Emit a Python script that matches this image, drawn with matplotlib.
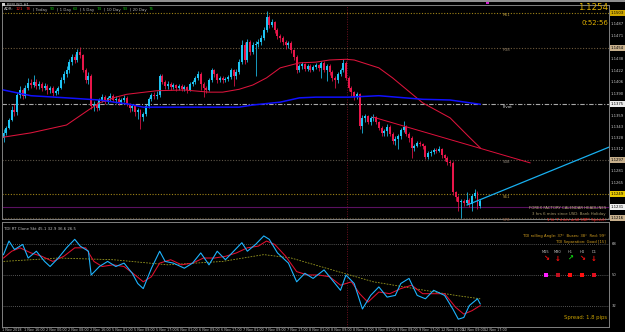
import matplotlib
matplotlib.use("Agg")
import matplotlib.pyplot as plt
import matplotlib.transforms as mtransforms
from matplotlib.patches import Rectangle
import numpy as np

# ---------------- data ----------------
first_open = 1.1328
closes = [1.1335, 1.1342, 1.1353, 1.1367, 1.1364, 1.1388, 1.1395, 1.1387, 1.1398, 1.1405,
          1.1402, 1.1406, 1.1401, 1.1403, 1.1398, 1.1401, 1.1395, 1.1398, 1.1391, 1.1394,
          1.1398, 1.1409, 1.1417, 1.1423, 1.1434, 1.1441, 1.1437, 1.1448, 1.1444, 1.1423,
          1.1409, 1.1415, 1.1373, 1.1375, 1.1370, 1.1381, 1.1385, 1.1378, 1.1384, 1.1387,
          1.1381, 1.1382, 1.1378, 1.1381, 1.1384, 1.1375, 1.1370, 1.1373, 1.1364, 1.1367,
          1.1357, 1.1361, 1.1373, 1.1382, 1.1388, 1.1387, 1.1388, 1.1414, 1.1406, 1.1401,
          1.1403, 1.1399, 1.1402, 1.1398, 1.1401, 1.1396, 1.1399, 1.1395, 1.1403, 1.1406,
          1.1412, 1.1417, 1.1403, 1.1398, 1.1395, 1.1409, 1.1423, 1.1417, 1.1409, 1.1412,
          1.1409, 1.1410, 1.1413, 1.1423, 1.1415, 1.1420, 1.1434, 1.1458, 1.1437, 1.1462,
          1.1448, 1.1458, 1.1459, 1.1462, 1.1468, 1.1479, 1.1497, 1.1486, 1.1490, 1.1479,
          1.1471, 1.1468, 1.1462, 1.1458, 1.1461, 1.1451, 1.1441, 1.1423, 1.1429, 1.1431,
          1.1424, 1.1429, 1.1423, 1.1427, 1.1430, 1.1426, 1.1433, 1.1423, 1.1429, 1.1420,
          1.1412, 1.1409, 1.1417, 1.1423, 1.1433, 1.1412, 1.1398, 1.1392, 1.1385, 1.1389,
          1.1345, 1.1356, 1.1358, 1.1350, 1.1356, 1.1357, 1.1350, 1.1342, 1.1335, 1.1338,
          1.1343, 1.1334, 1.1324, 1.1327, 1.1331, 1.1339, 1.1343, 1.1333, 1.1328, 1.1314,
          1.1317, 1.1321, 1.1319, 1.1317, 1.1301, 1.1307, 1.1308, 1.1311, 1.1310, 1.1312,
          1.1304, 1.1300, 1.1294, 1.1293, 1.1252, 1.1245, 1.1238, 1.1240, 1.1237, 1.1241,
          1.1235, 1.1247, 1.1251, 1.1233, 1.1239]
highs = [1.1340, 1.1345, 1.1356, 1.1372, 1.1375, 1.1392, 1.1400, 1.1398, 1.1402, 1.1412,
         1.1410, 1.1416, 1.1410, 1.1408, 1.1406, 1.1405, 1.1403, 1.1401, 1.1400, 1.1397,
         1.1401, 1.1413, 1.1421, 1.1428, 1.1438, 1.1446, 1.1445, 1.1452, 1.1455, 1.1446,
         1.1426, 1.1420, 1.1418, 1.1380, 1.1378, 1.1384, 1.1390, 1.1388, 1.1387, 1.1391,
         1.1389, 1.1386, 1.1385, 1.1384, 1.1388, 1.1386, 1.1377, 1.1376, 1.1375, 1.1370,
         1.1369, 1.1364, 1.1376, 1.1385, 1.1391, 1.1392, 1.1393, 1.1418, 1.1417, 1.1409,
         1.1407, 1.1406, 1.1405, 1.1404, 1.1404, 1.1403, 1.1402, 1.1401, 1.1406, 1.1409,
         1.1415, 1.1421, 1.1420, 1.1406, 1.1401, 1.1412, 1.1426, 1.1425, 1.1419, 1.1415,
         1.1414, 1.1413, 1.1416, 1.1426, 1.1425, 1.1424, 1.1438, 1.1465, 1.1462, 1.1466,
         1.1465, 1.1462, 1.1463, 1.1466, 1.1472, 1.1483, 1.1505, 1.1500, 1.1494, 1.1492,
         1.1482, 1.1474, 1.1470, 1.1465, 1.1464, 1.1463, 1.1453, 1.1444, 1.1432, 1.1434,
         1.1433, 1.1432, 1.1431, 1.1430, 1.1433, 1.1432, 1.1436, 1.1435, 1.1432, 1.1431,
         1.1423, 1.1415, 1.1420, 1.1426, 1.1438, 1.1435, 1.1414, 1.1400, 1.1394, 1.1392,
         1.1391, 1.1360, 1.1362, 1.1360, 1.1359, 1.1362, 1.1359, 1.1352, 1.1344, 1.1341,
         1.1347, 1.1346, 1.1336, 1.1330, 1.1334, 1.1342, 1.1352, 1.1346, 1.1336, 1.1330,
         1.1320, 1.1324, 1.1324, 1.1321, 1.1318, 1.1310, 1.1311, 1.1314, 1.1314, 1.1316,
         1.1314, 1.1306, 1.1302, 1.1297, 1.1295, 1.1254, 1.1248, 1.1243, 1.1243, 1.1252,
         1.1244, 1.1250, 1.1256, 1.1254, 1.1242]
lows = [1.1322, 1.1332, 1.1340, 1.1351, 1.1358, 1.1360, 1.1384, 1.1383, 1.1384, 1.1395,
        1.1398, 1.1399, 1.1396, 1.1397, 1.1394, 1.1395, 1.1390, 1.1391, 1.1387, 1.1388,
        1.1390, 1.1396, 1.1405, 1.1413, 1.1419, 1.1430, 1.1433, 1.1434, 1.1440, 1.1420,
        1.1405, 1.1404, 1.1369, 1.1366, 1.1365, 1.1367, 1.1378, 1.1375, 1.1376, 1.1380,
        1.1378, 1.1377, 1.1374, 1.1376, 1.1378, 1.1372, 1.1364, 1.1366, 1.1358, 1.1355,
        1.1340, 1.1352, 1.1358, 1.1370, 1.1379, 1.1383, 1.1382, 1.1385, 1.1403, 1.1396,
        1.1397, 1.1395, 1.1396, 1.1394, 1.1395, 1.1393, 1.1394, 1.1391, 1.1393, 1.1400,
        1.1403, 1.1409, 1.1395, 1.1385, 1.1391, 1.1393, 1.1406, 1.1413, 1.1405, 1.1406,
        1.1405, 1.1406, 1.1407, 1.1410, 1.1400, 1.1411, 1.1418, 1.1432, 1.1432, 1.1434,
        1.1444, 1.1445, 1.1415, 1.1455, 1.1458, 1.1465, 1.1476, 1.1482, 1.1483, 1.1475,
        1.1466, 1.1462, 1.1458, 1.1452, 1.1454, 1.1447, 1.1437, 1.1419, 1.1420, 1.1425,
        1.1421, 1.1422, 1.1420, 1.1421, 1.1424, 1.1422, 1.1412, 1.1420, 1.1407, 1.1416,
        1.1408, 1.1398, 1.1405, 1.1414, 1.1420, 1.1409, 1.1394, 1.1387, 1.1381, 1.1382,
        1.1340, 1.1335, 1.1350, 1.1347, 1.1346, 1.1352, 1.1347, 1.1339, 1.1331, 1.1331,
        1.1330, 1.1330, 1.1320, 1.1318, 1.1312, 1.1327, 1.1336, 1.1330, 1.1322, 1.1300,
        1.1310, 1.1315, 1.1316, 1.1313, 1.1298, 1.1299, 1.1302, 1.1305, 1.1307, 1.1308,
        1.1300, 1.1296, 1.1290, 1.1288, 1.1248, 1.1240, 1.1225, 1.1216, 1.1232, 1.1235,
        1.1231, 1.1225, 1.1244, 1.1228, 1.1230]

# moving averages (bar index, price)
ma_red_bars = [0, 10, 23, 31, 35, 41, 45, 56, 66, 75, 80, 86, 91, 96, 101, 108, 114, 119, 125, 128, 137, 142, 153, 163, 170, 174]
ma_red_vals = [1.1329, 1.1335, 1.1346, 1.1367, 1.1377, 1.1385, 1.1389, 1.1394, 1.1395, 1.1392, 1.1392, 1.1396, 1.1402,
               1.1412, 1.1426, 1.1433, 1.1434, 1.1437, 1.1438, 1.1437, 1.1426, 1.1412, 1.1377, 1.1356, 1.1329, 1.1314]
ma_blue_bars = [0, 10, 23, 35, 46, 51, 63, 86, 91, 101, 108, 114, 126, 137, 153, 163, 174]
ma_blue_vals = [1.1395, 1.1387, 1.1384, 1.1381, 1.1375, 1.1371, 1.1371, 1.1371, 1.1374, 1.1378, 1.1384, 1.1385,
                1.1385, 1.1387, 1.1382, 1.1381, 1.1375]

# trend lines (bar, price)
tl_red_bars = [134.9, 192.2]
tl_red_vals = [1.1357, 1.1293]
tl_blue_bars = [169.2, 221.0]
tl_blue_vals = [1.1234, 1.1315]

# pivot / fib levels
level_names = ["R61", "R38", "Pivot", "S38", "S61", "S78"]
level_vals = [1.1503, 1.1454, 1.1375, 1.1297, 1.1249, 1.1216]
bid_line = 1.1231
current_price = "1.1254"
timer_text = "0:52:56"
vline_bar = 125.4
price_ticks = [1.1487, 1.1471, 1.1438, 1.1422, 1.1406, 1.1390, 1.1359, 1.1343, 1.1328, 1.1312, 1.1281, 1.1265]

# TDI sub window
tdi_blue_bars = [0, 2, 4, 7, 9, 12, 15, 17, 20, 23, 26, 28, 31, 32, 35, 38, 41, 44, 47, 49, 51, 54, 57, 59, 62, 66,
                 69, 72, 75, 78, 81, 84, 87, 89, 92, 95, 97, 100, 104, 107, 110, 113, 117, 121, 123, 125, 128, 131,
                 134, 137, 140, 143, 145, 148, 151, 154, 157, 161, 164, 166, 168, 170, 173, 174]
tdi_blue_vals = [62, 70, 65, 68, 60, 64, 58, 55, 60, 66, 71, 67, 64, 50, 55, 58, 55, 57, 51, 45, 42, 54, 64, 58, 57, 54,
                 57, 63, 56, 64, 59, 64, 69, 64, 68, 73, 71, 63, 57, 46, 51, 48, 53, 45, 41, 50, 45, 30,
                 38, 43, 37, 38, 45, 48, 38, 36, 41, 38, 30, 24, 25, 32, 36, 33]
tdi_red_bars = [0, 3, 6, 10, 14, 18, 22, 26, 30, 33, 36, 40, 44, 48, 51, 54, 57, 61, 65, 69, 73, 77, 81, 85, 89, 93,
                96, 99, 103, 107, 111, 115, 119, 123, 127, 130, 133, 137, 141, 145, 149, 153, 157, 161, 165, 168, 171, 174]
tdi_red_vals = [60, 64, 66, 63, 61, 58, 61, 66, 66, 58, 55, 56, 55, 50, 46, 49, 57, 59, 56, 57, 60, 60, 61, 63, 66, 67,
                70, 68, 61, 52, 50, 50, 49, 44, 46, 39, 34, 40, 39, 42, 44, 39, 39, 39, 31, 27, 29, 32]
tdi_base_bars = [0, 20, 40, 60, 80, 95, 105, 120, 135, 150, 165, 174]
tdi_base_vals = [58, 60, 59, 56, 58, 62, 60, 53, 46, 42, 38, 36]
tdi_levels = [68, 50, 32]

time_labels = ["1 Nov 2018", "1 Nov 16:00", "2 Nov 00:00", "2 Nov 08:00", "2 Nov 16:00", "5 Nov 01:00",
               "5 Nov 09:00", "5 Nov 17:00", "6 Nov 01:00", "6 Nov 09:00", "6 Nov 17:00", "7 Nov 01:00",
               "7 Nov 09:00", "7 Nov 17:00", "8 Nov 01:00", "8 Nov 09:00", "8 Nov 17:00", "9 Nov 01:00",
               "9 Nov 09:00", "9 Nov 17:00", "12 Nov 01:00", "12 Nov 09:00", "12 Nov 17:00"]
bars_per_label = 8

tf_names = ["M15", "M30", "H1", "H4", "D1"]
tf_arrows = ["\u2198", "\u2193", "\u2197", "\u2198", "\u2193"]
tf_arrow_colors = ["#ff1010", "#ff1010", "#10e010", "#ff1010", "#ff1010"]
tf_square_colors = ["#ff20ff", "#c01020", "#ff1010", "#ff1010", "#e01020"]

# ---------------- figure ----------------
W, H = 625, 332
fig = plt.figure(figsize=(W / 100, H / 100), dpi=100, facecolor="black")


def fx(px):
    return px / W


def fy(py):
    return 1 - py / H


GRAY = "#808080"
ax = fig.add_axes([fx(2), fy(219), fx(609) - fx(2), fy(5) - fy(219)], facecolor="black")
sub = fig.add_axes([fx(2), fy(327), fx(609) - fx(2), fy(222) - fy(327)], facecolor="black")

xlim = (-0.55, 221.0)
for a in (ax, sub):
    a.set_xlim(*xlim)
    a.set_xticks([])
    a.set_yticks([])
    for s in a.spines.values():
        s.set_color(GRAY)
        s.set_linewidth(0.7)
ax.set_ylim(1.12144, 1.1514)
sub.set_ylim(19.4, 81.2)

# --- candles ---
opens = [first_open] + closes[:-1]
n = len(closes)
xs = np.arange(n)
o = np.array(opens)
c = np.array(closes)
hi = np.array(highs)
lo = np.array(lows)
up = c >= o
BULL = "#1ec4f4"
BEAR = "#e8164a"
cols = np.where(up, BULL, BEAR)
ax.vlines(xs, lo, hi, colors=cols, linewidth=0.55, zorder=4)
body_h = np.maximum(np.abs(c - o), 0.00005)
ax.bar(xs, body_h, bottom=np.minimum(o, c), width=0.72, color=cols, linewidth=0, zorder=5)

# --- levels ---
level_styles = {
    "R61": ("#a08418", (0, (1, 1.5))),
    "R38": ("#6e5a3c", (0, (1, 1.5))),
    "Pivot": ("#a8a8a8", (0, (4, 1.5, 1, 1.5))),
    "S38": ("#5e5648", (0, (1, 1.5))),
    "S61": ("#a08418", (0, (1, 1.5))),
    "S78": ("#5a4a30", (0, (1, 1.5))),
}
label_cols = {"R61": "#b89a40", "R38": "#8c7c64", "Pivot": "#d8d8d8", "S38": "#8c8478", "S61": "#b89a40", "S78": "#8c5a40"}
box_cols = {"R61": "#d0a800", "R38": "#c8b08c", "Pivot": "#ececec", "S38": "#c8b08c", "S61": "#e8c800", "S78": "#c8b08c"}
blend_fig_data = mtransforms.blended_transform_factory(fig.transFigure, ax.transData)
blend_ax_data = mtransforms.blended_transform_factory(ax.transAxes, ax.transData)
for name, val in zip(level_names, level_vals):
    colr, ls = level_styles[name]
    ax.axhline(val, color=colr, linestyle=ls, linewidth=0.8, zorder=2)
    ax.text(fx(503), val - 0.00004, name, transform=blend_fig_data, color=label_cols[name],
            fontsize=2.9, va="top", ha="left", zorder=6)

ax.axhline(bid_line, color="#5a1060", linewidth=0.8, zorder=2)

# --- moving averages ---
ax.plot(ma_red_bars, ma_red_vals, color="#dc143c", linewidth=0.75, zorder=6)
ax.plot(ma_blue_bars, ma_blue_vals, color="#1010ff", linewidth=1.1, zorder=6)

# --- trend lines ---
ax.plot(tl_red_bars, tl_red_vals, color="#e0103c", linewidth=0.7, zorder=6)
ax.plot(tl_blue_bars, tl_blue_vals, color="#18b0f0", linewidth=0.9, zorder=6)

# --- vertical marker line ---
for a in (ax, sub):
    a.axvline(vline_bar, color="#701020", linestyle=(0, (1, 1.5)), linewidth=0.7, zorder=1)

# --- right price axis labels ---
for t in price_ticks:
    ax.text(1.003, t, f"{t:.4f}", transform=blend_ax_data, color="#c8c8c8", fontsize=2.7,
            va="center", ha="left", clip_on=False)
for name, val in zip(level_names, level_vals):
    ax.text(1.003, val, f"{val:.4f}", transform=blend_ax_data, color="black", fontsize=2.7,
            va="center", ha="left", clip_on=False,
            bbox=dict(facecolor=box_cols[name], edgecolor="none", pad=0.6))
ax.text(1.003, bid_line, f"{bid_line:.4f}", transform=blend_ax_data, color="black", fontsize=2.7,
        va="center", ha="left", clip_on=False, bbox=dict(facecolor="#f0f0f0", edgecolor="none", pad=0.6))

# big price + timer
fig.text(fx(608), fy(8), current_price, color="#e0b000", fontsize=6.2, ha="right", va="center")
fig.text(fx(608), fy(23), timer_text, color="#e0b000", fontsize=5.0, ha="right", va="center")

# top bar and marker
fig.patches.append(Rectangle((0, fy(2)), 1, 2 / H, transform=fig.transFigure, facecolor="#909090",
                             edgecolor="none"))
fig.patches.append(Rectangle((fx(486), fy(4)), 3 / W, 2 / H, transform=fig.transFigure,
                             facecolor="#d020d0", edgecolor="none"))

# --- header texts ---
renderer = fig.canvas.get_renderer()
fig.patches.append(Rectangle((fx(2), fy(6)), 3 / W, 3 / H, transform=fig.transFigure,
                             facecolor="#d0d0d0", edgecolor="none"))
fig.text(fx(7), fy(4.5), "EURUSD,H1", color="#c8c8c8", fontsize=2.8, va="center", ha="left")
pieces = [("ADR:", "#b8b8b8"), ("121", "#ff2020"), ("78", "#ff2020"), ("| Today", "#b8b8b8"), ("90", "#10c010"),
          ("| 1 Day", "#b8b8b8"), ("63", "#10c010"), ("| 5 Day", "#b8b8b8"), ("74", "#10c010"),
          ("| 10 Day", "#b8b8b8"), ("93", "#10c010"), ("| 20 Day", "#b8b8b8"), ("76", "#10c010")]
xcur = 4.0
for txt, colr in pieces:
    t = fig.text(fx(xcur), fy(9.5), txt, color=colr, fontsize=2.9, va="center", ha="left")
    bb = t.get_window_extent(renderer=renderer)
    xcur += bb.width + 2.2

# Forex factory headlines
fig.text(fx(606), fy(208), "FOREX FACTORY CALENDAR HEADLINES", color="#c8b48c", fontsize=2.8,
         ha="right", va="center")
fig.text(fx(606), fy(214), "3 hrs 6 mins since USD: Bank Holiday", color="#a89a6a", fontsize=2.8,
         ha="right", va="center")
fig.text(fx(606), fy(219.5), "1 hr 7 mins until GBP: Speech", color="#ff2020", fontsize=2.8,
         ha="right", va="center")

# --- TDI ---
for lv in tdi_levels:
    sub.axhline(lv, color="#707070", linestyle=(0, (1, 1.5)), linewidth=0.6, zorder=1)
sub.plot(tdi_base_bars, tdi_base_vals, color="#9a9a20", linestyle=(0, (2, 1.5)), linewidth=0.6, zorder=2)
sub.plot(tdi_red_bars, tdi_red_vals, color="#e01030", linewidth=0.75, zorder=3)
sub.plot(tdi_blue_bars, tdi_blue_vals, color="#1eb4ff", linewidth=0.8, zorder=4)

blend_sub = mtransforms.blended_transform_factory(sub.transAxes, sub.transData)
for lv in tdi_levels:
    sub.text(1.004, lv, str(lv), transform=blend_sub, color="#c8c8c8", fontsize=2.7, va="center",
             ha="left", clip_on=False)

fig.text(fx(4), fy(229), "TDI RT Clone Skt 45.1 32.9 36.6 26.5", color="#c0c0c0", fontsize=2.8,
         va="center", ha="left")
fig.text(fx(606), fy(236), "TDI rolling Angle: 37\u00b0  Buses: 38\u00b0  Red: 99\u00b0", color="#d4a020",
         fontsize=2.7, va="center", ha="right")
fig.text(fx(606), fy(241.5), "TDI Separation: Good [15]", color="#d4a020", fontsize=2.7, va="center", ha="right")
tf_x = [546, 558, 570, 582, 594]
for xp, nm, ar, ac, sc in zip(tf_x, tf_names, tf_arrows, tf_arrow_colors, tf_square_colors):
    fig.text(fx(xp), fy(252), nm, color="#c0c0c0", fontsize=2.6, ha="center", va="center")
    fig.text(fx(xp), fy(258.5), ar, color=ac, fontsize=5.0, ha="center", va="center", fontweight="bold")
    fig.patches.append(Rectangle((fx(xp - 2), fy(277)), 4 / W, 4 / H, transform=fig.transFigure,
                                 facecolor=sc, edgecolor="none"))

fig.text(fx(607), fy(318), "Spread: 1.8 pips", color="#c8a000", fontsize=3.8, ha="right", va="center")

# --- time axis labels ---
blend_time = mtransforms.blended_transform_factory(sub.transData, fig.transFigure)
for k, lab in enumerate(time_labels):
    sub.text(k * bars_per_label - 0.5, fy(330), lab, transform=blend_time, color="#c8c8c8", fontsize=2.4,
             ha="left", va="center", clip_on=False)

fig.savefig("out.png", dpi=100, facecolor="black")
